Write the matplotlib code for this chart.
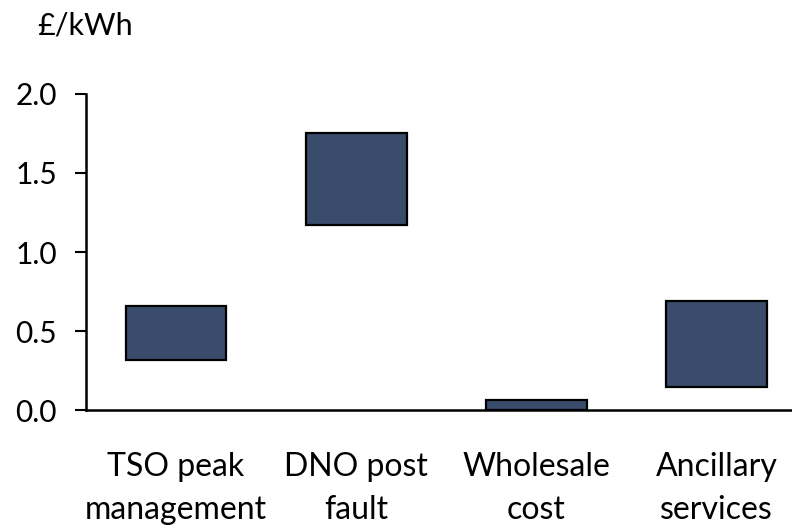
import matplotlib.pyplot as plt

plt.rcParams['font.family'] = ['Lato', 'DejaVu Sans']

# value ranges per service (£/kWh)
categories = ["TSO peak\nmanagement", "DNO post\nfault", "Wholesale\ncost", "Ancillary\nservices"]
low = [0.32, 1.17, 0.0, 0.15]
high = [0.66, 1.75, 0.065, 0.69]
yticks = [0.0, 0.5, 1.0, 1.5, 2.0]

fig = plt.figure(figsize=(7.92, 5.26), dpi=100)
ax = fig.add_axes([0.1086, 0.2196, 0.8914, 0.6026])

x = range(len(categories))
heights = [h - l for h, l in zip(high, low)]
ax.bar(x, heights, bottom=low, width=0.56, color="#394c6b",
       edgecolor="black", linewidth=1.6, zorder=3)

ax.set_xlim(-0.5, 3.42)
ax.set_ylim(0, 2.0)
ax.set_yticks(yticks)
ax.set_yticklabels([f"{v:.1f}" for v in yticks], fontsize=21.5)
ax.set_xticks(list(x))
ax.set_xticklabels(categories, fontsize=23, linespacing=1.55)

ax.tick_params(axis="y", length=8, width=1.5, pad=13, colors="black")
ax.tick_params(axis="x", length=0, pad=30)
for s in ["top", "right"]:
    ax.spines[s].set_visible(False)
for s in ["left", "bottom"]:
    ax.spines[s].set_linewidth(1.8)

fig.text(37 / 792, 1 - 26 / 526, "£/kWh", fontsize=22, va="center", ha="left")

fig.savefig("out.png", dpi=100)
